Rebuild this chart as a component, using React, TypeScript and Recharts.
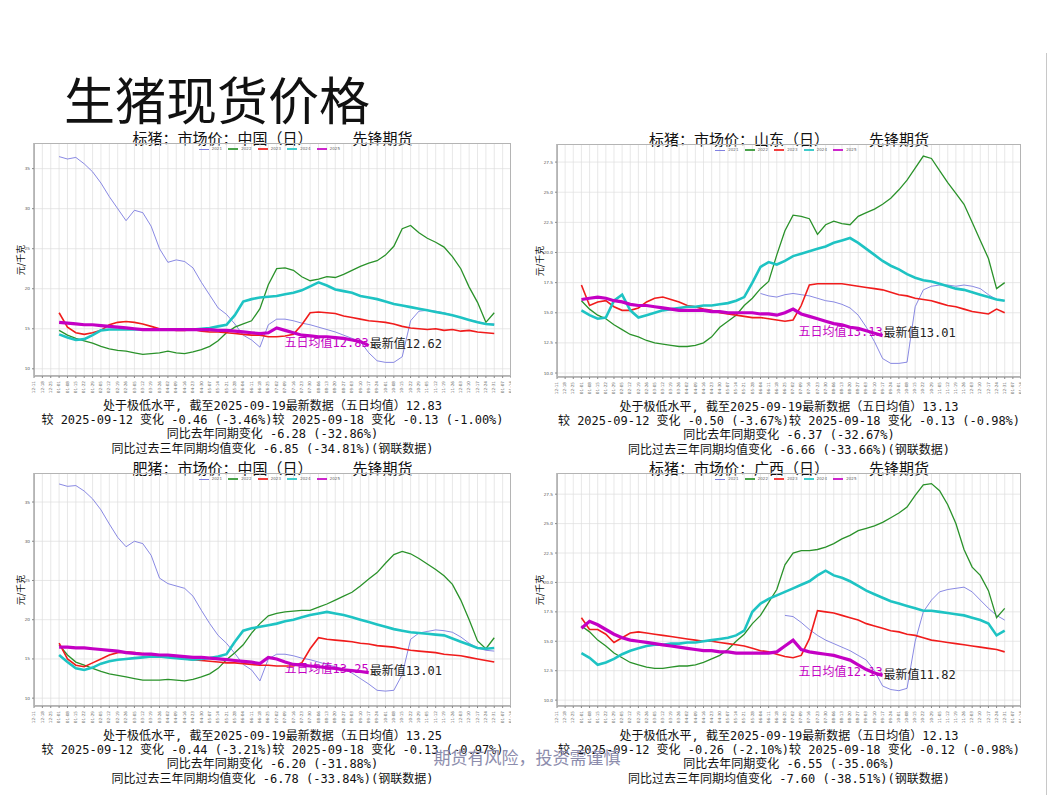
import React from "react";
import { CartesianGrid, Line, LineChart, ReferenceDot, XAxis, YAxis } from "recharts";

// 周度横轴：前后各留几格，01-01 在第 4 格
const XLABELS = [
  "12-11", "12-18", "12-25",
  "01-01", "01-08", "01-15", "01-22", "01-29", "02-05", "02-12", "02-19", "02-26",
  "03-05", "03-12", "03-19", "03-26", "04-02", "04-09", "04-16", "04-23", "04-30",
  "05-07", "05-14", "05-21", "05-28", "06-04", "06-11", "06-18", "06-25", "07-02",
  "07-09", "07-16", "07-23", "07-30", "08-06", "08-13", "08-20", "08-27", "09-03",
  "09-10", "09-17", "09-24", "10-01", "10-08", "10-15", "10-22", "10-29", "11-05",
  "11-12", "11-19", "11-26", "12-03", "12-10", "12-17", "12-24", "12-31",
  "01-07", "01-14",
];
const OFFSET = 3;
const YEARS = ["2021", "2022", "2023", "2024", "2025"];
const COLORS = ["#6b6bdc", "#2a922a", "#f01c1c", "#1ec3c3", "#c400c4"];
const WIDTHS = [0.8, 1.3, 1.6, 2.6, 3.2];

const Y_TICKS_WIDE = [10, 15, 20, 25, 30, 35];
const Y_TICKS_NARROW = [10, 12.5, 15, 17.5, 20, 22.5, 25, 27.5];

// 标猪 中国
const TL_2021 = [36.5, 36.2, 36.4, 35.6, 34.6, 33.2, 31.5, 30.0, 28.5, 29.8, 29.5, 27.8, 25.0, 23.3, 23.6, 23.4, 22.6, 20.8, 19.2, 17.6, 16.8, 15.6, 14.2, 13.6, 12.7, 15.5, 16.2, 16.2, 16.0, 15.7, 15.5, 15.2, 14.9, 14.6, 14.2, 13.8, 13.4, 12.0, 11.0, 10.8, 10.8, 11.5, 16.0, 17.2, 17.3, 17.2, 17.0, 16.7, 16.4, 16.1, 15.9, 15.6, 15.6];
const TL_2022 = [14.8, 14.2, 13.8, 13.5, 13.2, 12.8, 12.5, 12.3, 12.2, 12.0, 11.8, 11.9, 12.0, 12.2, 12.0, 11.9, 12.1, 12.4, 12.8, 13.5, 14.5, 15.2, 15.6, 16.0, 17.5, 20.5, 22.5, 22.6, 22.3, 21.5, 21.0, 21.2, 21.5, 21.4, 21.8, 22.3, 22.8, 23.2, 23.5, 24.2, 25.3, 27.5, 27.9, 27.0, 26.3, 25.8, 25.2, 24.0, 22.5, 20.2, 18.3, 15.8, 17.0];
const TL_2023 = [17.0, 15.2, 14.5, 14.3, 14.5, 14.8, 15.5, 15.8, 15.9, 15.8, 15.6, 15.3, 15.0, 14.9, 14.8, 14.8, 14.9, 14.7, 14.6, 14.6, 14.5, 14.4, 14.3, 14.2, 14.2, 14.0, 14.0, 14.1, 14.3, 15.5, 17.0, 17.1, 17.0, 16.9, 16.6, 16.4, 16.2, 16.0, 15.9, 15.8, 15.6, 15.3, 15.1, 15.0, 14.9, 15.0, 14.8, 14.9, 14.7, 14.8, 14.6, 14.5, 14.4];
const TL_2024 = [14.3, 13.9, 13.6, 13.7, 14.2, 14.8, 14.9, 14.9, 14.9, 14.9, 14.9, 14.9, 14.9, 14.9, 14.9, 14.9, 14.9, 15.0, 15.1, 15.3, 15.5, 16.7, 18.4, 18.7, 18.9, 19.0, 19.1, 19.3, 19.5, 19.8, 20.3, 20.8, 20.4, 19.9, 19.7, 19.5, 19.1, 18.9, 18.7, 18.4, 18.1, 17.9, 17.7, 17.5, 17.3, 17.1, 16.9, 16.7, 16.4, 16.1, 15.8, 15.6, 15.5];
const TL_2025 = [15.8, 15.7, 15.6, 15.5, 15.5, 15.4, 15.3, 15.2, 15.1, 15.0, 14.9, 14.9, 14.9, 14.9, 14.9, 14.9, 14.9, 14.9, 14.9, 14.8, 14.8, 14.7, 14.6, 14.5, 14.4, 14.5, 15.1, 14.8, 14.5, 14.2, 14.1, 14.0, 14.0, 13.9, 13.8, 13.6, 13.4, 12.9];

// 标猪 山东（2021 年数据从年中开始）
const TR_2021 = [...Array(22).fill(null), 16.6, 16.4, 16.3, 16.5, 16.6, 16.5, 16.4, 16.2, 16.0, 15.9, 15.7, 15.4, 14.8, 13.8, 12.6, 11.2, 10.8, 10.8, 10.9, 15.5, 16.9, 17.2, 17.3, 17.3, 17.2, 17.3, 17.2, 17.0, 16.5, 16.1, 16.0];
const TR_2022 = [16.0, 15.3, 14.8, 14.5, 14.0, 13.6, 13.2, 13.0, 12.7, 12.5, 12.4, 12.3, 12.2, 12.2, 12.3, 12.5, 13.0, 13.8, 14.3, 14.8, 15.6, 16.2, 17.0, 17.6, 19.8, 21.8, 23.1, 23.0, 22.8, 21.5, 22.3, 22.6, 22.4, 22.3, 23.0, 23.3, 23.6, 24.0, 24.5, 25.2, 26.0, 27.0, 28.0, 27.8, 26.8, 25.8, 24.9, 24.0, 22.5, 21.0, 19.5, 17.0, 17.5];
const TR_2023 = [17.3, 15.6, 15.9, 16.0, 15.5, 15.2, 15.2, 15.4, 15.9, 16.2, 16.3, 16.1, 15.9, 15.6, 15.5, 15.3, 15.2, 15.0, 14.9, 14.8, 14.7, 14.6, 14.6, 14.5, 14.4, 14.3, 14.4, 15.6, 17.3, 17.4, 17.4, 17.4, 17.4, 17.3, 17.2, 17.1, 17.0, 16.9, 16.7, 16.5, 16.4, 16.2, 16.1, 16.0, 15.8, 15.6, 15.5, 15.3, 15.1, 15.0, 14.9, 15.3, 15.0];
const TR_2024 = [15.2, 14.8, 14.5, 14.6, 16.0, 16.5, 15.2, 14.6, 14.8, 15.0, 15.2, 15.3, 15.4, 15.5, 15.5, 15.6, 15.6, 15.7, 15.8, 16.0, 16.3, 17.5, 18.8, 19.2, 19.0, 19.3, 19.7, 19.9, 20.1, 20.3, 20.5, 20.8, 21.0, 21.2, 20.8, 20.3, 19.8, 19.3, 18.9, 18.6, 18.2, 17.9, 17.7, 17.6, 17.4, 17.2, 17.0, 16.9, 16.7, 16.5, 16.3, 16.1, 16.0];
const TR_2025 = [16.1, 16.2, 16.3, 16.2, 16.0, 15.9, 15.7, 15.6, 15.6, 15.5, 15.4, 15.3, 15.2, 15.2, 15.2, 15.2, 15.1, 15.1, 15.0, 15.0, 15.0, 15.0, 14.9, 14.9, 14.8, 15.0, 15.3, 14.9, 14.7, 14.5, 14.3, 14.1, 14.0, 13.8, 13.7, 13.5, 13.3, 13.1];

// 肥猪 中国
const BL_2021 = [37.3, 37.0, 37.1, 36.4, 35.4, 34.0, 32.2, 30.5, 29.3, 30.0, 29.7, 28.2, 25.3, 24.6, 24.3, 24.0, 23.0, 21.2, 19.5, 18.0, 17.0, 15.7, 14.3, 13.6, 12.2, 15.0, 15.6, 15.6, 15.4, 15.1, 14.9, 14.6, 14.3, 14.0, 13.7, 13.2, 12.5, 11.8, 11.0, 10.9, 11.0, 13.0, 17.5, 18.3, 18.5, 18.7, 18.6, 18.4, 17.8, 17.0, 16.4, 16.1, 16.0];
const BL_2022 = [16.8, 15.5, 14.6, 14.2, 13.8, 13.4, 13.1, 12.9, 12.7, 12.5, 12.3, 12.3, 12.3, 12.4, 12.3, 12.2, 12.4, 12.7, 13.1, 13.8, 14.9, 15.8, 16.8, 18.3, 19.5, 20.5, 20.8, 21.0, 21.1, 21.2, 21.2, 21.6, 22.0, 22.5, 23.0, 23.5, 24.3, 25.2, 26.0, 27.2, 28.3, 28.7, 28.4, 27.8, 27.1, 26.4, 25.6, 24.5, 22.5, 20.0, 17.3, 16.3, 17.7];
const BL_2023 = [17.0, 15.0, 14.2, 14.0, 14.5, 15.0, 15.5, 15.8, 15.9, 15.8, 15.7, 15.5, 15.4, 15.3, 15.2, 15.0, 14.9, 14.8, 14.7, 14.6, 14.5, 14.5, 14.4, 14.3, 14.2, 14.2, 14.1, 14.1, 14.1, 14.5, 16.3, 17.7, 17.5, 17.4, 17.3, 17.2, 17.0, 16.9, 16.7, 16.6, 16.5, 16.3, 16.1, 16.0, 15.9, 15.8, 15.6, 15.5, 15.4, 15.2, 15.0, 14.8, 14.6];
const BL_2024 = [15.5, 14.6, 13.8, 13.6, 13.9, 14.4, 14.7, 14.9, 15.0, 15.1, 15.2, 15.3, 15.3, 15.2, 15.1, 15.0, 14.9, 15.0, 15.1, 15.3, 15.6, 17.2, 18.6, 18.9, 19.1, 19.3, 19.5, 19.8, 20.0, 20.3, 20.6, 20.8, 21.0, 20.8, 20.6, 20.3, 20.0, 19.7, 19.4, 19.1, 18.8, 18.6, 18.4, 18.3, 18.2, 18.1, 18.0, 17.6, 17.2, 16.8, 16.4, 16.3, 16.4];
const BL_2025 = [16.5, 16.5, 16.4, 16.4, 16.3, 16.2, 16.1, 16.0, 15.8, 15.7, 15.6, 15.6, 15.5, 15.5, 15.4, 15.3, 15.2, 15.2, 15.1, 15.0, 14.9, 14.8, 14.7, 14.6, 14.4, 15.2, 15.0, 14.6, 14.3, 14.2, 14.1, 14.0, 13.9, 13.8, 13.6, 13.5, 13.4, 13.25];

// 标猪 广西（2021 年数据从年中开始）
const BR_2021 = [...Array(25).fill(null), 17.2, 17.1, 16.6, 16.0, 15.5, 15.1, 14.8, 14.5, 14.2, 13.8, 13.4, 12.5, 11.2, 10.9, 10.8, 11.0, 15.0, 17.5, 18.5, 19.2, 19.4, 19.5, 19.6, 19.2, 18.5, 17.8, 17.2, 16.8];
const BR_2022 = [16.3, 15.8, 15.1, 14.6, 14.0, 13.6, 13.2, 13.0, 12.8, 12.7, 12.7, 12.8, 12.9, 12.9, 13.0, 13.2, 13.5, 13.8, 14.3, 15.0, 15.6, 16.5, 17.2, 18.3, 19.4, 21.5, 22.5, 22.7, 22.7, 22.8, 23.0, 23.3, 23.7, 24.0, 24.4, 24.6, 24.8, 25.1, 25.5, 25.9, 26.4, 27.4, 28.3, 28.4, 27.8, 26.6, 25.0, 22.8, 21.3, 20.6, 19.3, 17.0, 17.8];
const BR_2023 = [17.0, 16.0, 16.0, 15.6, 14.9, 15.3, 15.7, 15.8, 15.7, 15.6, 15.5, 15.4, 15.3, 15.2, 15.1, 15.0, 15.0, 14.9, 14.8, 14.7, 14.6, 14.4, 14.2, 14.1, 13.9, 13.7, 13.6, 13.8, 15.2, 17.6, 17.5, 17.4, 17.2, 17.0, 16.8, 16.5, 16.3, 16.1, 15.9, 15.8, 15.6, 15.5, 15.3, 15.1, 15.0, 14.9, 14.8, 14.7, 14.6, 14.5, 14.4, 14.3, 14.1];
const BR_2024 = [14.0, 13.6, 13.0, 13.2, 13.5, 13.9, 14.2, 14.4, 14.6, 14.7, 14.7, 14.8, 14.8, 14.9, 14.9, 15.0, 15.1, 15.2, 15.3, 15.5, 15.9, 17.5, 18.2, 18.6, 18.9, 19.2, 19.5, 19.8, 20.1, 20.6, 21.0, 20.6, 20.4, 20.1, 19.7, 19.3, 19.0, 18.7, 18.4, 18.2, 18.0, 17.8, 17.6, 17.6, 17.5, 17.4, 17.3, 17.2, 17.0, 16.8, 16.5, 15.5, 15.9];
const BR_2025 = [16.1, 16.7, 16.4, 16.0, 15.6, 15.3, 15.1, 15.0, 14.9, 14.8, 14.7, 14.6, 14.5, 14.4, 14.3, 14.2, 14.2, 14.1, 14.1, 14.0, 14.0, 14.0, 14.0, 14.0, 14.1, 14.6, 15.1, 14.3, 14.1, 14.0, 13.9, 13.8, 13.6, 13.4, 13.0, 12.6, 12.3, 12.1];

// 五日均值 / 最新值
const TL_AVG = 12.83, TL_LATEST = 12.62;
const TR_AVG = 13.13, TR_LATEST = 13.01;
const BL_AVG = 13.25, BL_LATEST = 13.01;
const BR_AVG = 12.13, BR_LATEST = 11.82;

const TL_NOTES = [
  "处于极低水平, 截至2025-09-19最新数据（五日均值）12.83",
  "较 2025-09-12 变化 -0.46 (-3.46%)较 2025-09-18 变化 -0.13 (-1.00%)",
  "同比去年同期变化 -6.28 (-32.86%)",
  "同比过去三年同期均值变化 -6.85 (-34.81%)(钢联数据)",
];
const TR_NOTES = [
  "处于极低水平, 截至2025-09-19最新数据（五日均值）13.13",
  "较 2025-09-12 变化 -0.50 (-3.67%)较 2025-09-18 变化 -0.13 (-0.98%)",
  "同比去年同期变化 -6.37 (-32.67%)",
  "同比过去三年同期均值变化 -6.66 (-33.66%)(钢联数据)",
];
const BL_NOTES = [
  "处于极低水平, 截至2025-09-19最新数据（五日均值）13.25",
  "较 2025-09-12 变化 -0.44 (-3.21%)较 2025-09-18 变化 -0.13 (-0.97%)",
  "同比去年同期变化 -6.20 (-31.88%)",
  "同比过去三年同期均值变化 -6.78 (-33.84%)(钢联数据)",
];
const BR_NOTES = [
  "处于极低水平, 截至2025-09-19最新数据（五日均值）12.13",
  "较 2025-09-12 变化 -0.26 (-2.10%)较 2025-09-18 变化 -0.12 (-0.98%)",
  "同比去年同期变化 -6.55 (-35.06%)",
  "同比过去三年同期均值变化 -7.60 (-38.51%)(钢联数据)",
];

const PAGE_TITLE = "生猪现货价格";
const SOURCE = "先锋期货";
const DISCLAIMER = "期货有风险，投资需谨慎";
const UNIT = "元/千克";

const CJK = '"Noto Sans CJK SC", "Noto Sans", sans-serif';
const MIXED = '"DejaVu Sans Mono", "Noto Sans CJK SC", monospace';
const Y_AXIS_W = 24;
const X_AXIS_H = 18;

interface PanelCfg {
  title: string;
  left: number;
  top: number;
  width: number;
  height: number;
  unitX: number;
  domain: [number, number];
  ticks: number[];
  decimals: number;
  series: (number | null)[][];
  avg: number;
  latest: number;
  notes: string[];
}

const PANELS: PanelCfg[] = [
  { title: "标猪：市场价：中国（日）", left: 34, top: 143, width: 477, height: 233, unitX: 21, domain: [9.1, 38.2], ticks: Y_TICKS_WIDE, decimals: 0, series: [TL_2021, TL_2022, TL_2023, TL_2024, TL_2025], avg: TL_AVG, latest: TL_LATEST, notes: TL_NOTES },
  { title: "标猪：市场价：山东（日）", left: 557, top: 144, width: 464, height: 233, unitX: 540, domain: [9.67, 29.0], ticks: Y_TICKS_NARROW, decimals: 1, series: [TR_2021, TR_2022, TR_2023, TR_2024, TR_2025], avg: TR_AVG, latest: TR_LATEST, notes: TR_NOTES },
  { title: "肥猪：市场价：中国（日）", left: 34, top: 473, width: 477, height: 233, unitX: 21, domain: [9.0, 38.7], ticks: Y_TICKS_WIDE, decimals: 0, series: [BL_2021, BL_2022, BL_2023, BL_2024, BL_2025], avg: BL_AVG, latest: BL_LATEST, notes: BL_NOTES },
  { title: "标猪：市场价：广西（日）", left: 557, top: 473, width: 464, height: 233, unitX: 540, domain: [9.5, 29.3], ticks: Y_TICKS_NARROW, decimals: 1, series: [BR_2021, BR_2022, BR_2023, BR_2024, BR_2025], avg: BR_AVG, latest: BR_LATEST, notes: BR_NOTES },
];

const X_TICKS = XLABELS.map((_, i) => i);

function XTick({ x, y, payload }: { x?: number; y?: number; payload?: { value: number } }) {
  if (x == null || y == null || !payload) return null;
  const ty = y + 1;
  return (
    <text x={x} y={ty} transform={`rotate(-90 ${x} ${ty})`} textAnchor="end" dominantBaseline="middle" fontSize={4.2} fill="#666" fontFamily="DejaVu Sans">
      {XLABELS[payload.value]}
    </text>
  );
}

function Panel({ cfg }: { cfg: PanelCfg }) {
  const rows = XLABELS.map((_, i) => {
    const r: Record<string, number | null> = { i };
    cfg.series.forEach((s, k) => {
      const v = s[i - OFFSET];
      r[YEARS[k]] = v === undefined ? null : v;
    });
    return r;
  });
  const last = cfg.series[4].length - 1 + OFFSET;

  return (
    <>
      <div style={{ position: "absolute", left: cfg.left, top: cfg.top - 13, width: cfg.width, textAlign: "center", fontSize: 15, lineHeight: "16px", color: "#111", whiteSpace: "nowrap" }}>
        {cfg.title}
        <span style={{ display: "inline-block", width: 40 }} />
        {SOURCE}
      </div>
      <div style={{ position: "absolute", left: cfg.unitX - 20, top: cfg.top + cfg.height / 2 - 6, width: 40, textAlign: "center", fontSize: 9, lineHeight: "12px", transform: "rotate(-90deg)", color: "#111" }}>
        {UNIT}
      </div>
      <div style={{ position: "absolute", left: cfg.left - Y_AXIS_W, top: cfg.top }}>
        <LineChart width={cfg.width + Y_AXIS_W} height={cfg.height + X_AXIS_H} data={rows} margin={{ top: 0, right: 0, bottom: 0, left: 0 }}>
          <CartesianGrid stroke="#dedede" strokeWidth={0.7} />
          <XAxis
            dataKey="i"
            type="number"
            domain={[0, XLABELS.length - 1]}
            ticks={X_TICKS}
            interval={0}
            height={X_AXIS_H}
            tick={<XTick />}
            tickSize={2}
            tickLine={{ stroke: "#888" }}
            axisLine={{ stroke: "#888" }}
          />
          <YAxis
            type="number"
            domain={cfg.domain}
            ticks={cfg.ticks}
            allowDataOverflow
            width={Y_AXIS_W}
            tickSize={2}
            tickLine={{ stroke: "#888" }}
            axisLine={{ stroke: "#888" }}
            tick={{ fontSize: 4.2, fill: "#555", fontFamily: "DejaVu Sans" }}
            tickFormatter={(v: number) => v.toFixed(cfg.decimals)}
          />
          {YEARS.map((yr, k) => (
            <Line
              key={yr}
              dataKey={yr}
              type="linear"
              stroke={COLORS[k]}
              strokeWidth={WIDTHS[k]}
              dot={false}
              activeDot={false}
              connectNulls={false}
              isAnimationActive={false}
            />
          ))}
          <ReferenceDot
            x={last}
            y={cfg.avg}
            r={0}
            shape={(p: { cx?: number; cy?: number }) => (
              <text x={p.cx} y={(p.cy ?? 0) - 3} textAnchor="end" dominantBaseline="middle" fontSize={12} fill="#c400c4" fontFamily={MIXED}>
                {`五日均值${cfg.avg.toFixed(2)}`}
              </text>
            )}
          />
          <ReferenceDot
            x={last}
            y={cfg.latest}
            r={0}
            shape={(p: { cx?: number; cy?: number }) => (
              <text x={(p.cx ?? 0) + 1} y={(p.cy ?? 0) - 3} textAnchor="start" dominantBaseline="middle" fontSize={12} fill="#222" fontFamily={MIXED}>
                {`最新值${cfg.latest.toFixed(2)}`}
              </text>
            )}
          />
        </LineChart>
      </div>
      <div style={{ position: "absolute", left: cfg.left, top: cfg.top, width: cfg.width, height: cfg.height, boxSizing: "border-box", border: "1px solid #b4b4b4", pointerEvents: "none" }} />
      <div style={{ position: "absolute", left: cfg.left, top: cfg.top + 3, width: cfg.width, display: "flex", justifyContent: "center", pointerEvents: "none" }}>
        {YEARS.map((yr, k) => (
          <div key={yr} style={{ display: "flex", alignItems: "center", width: 29.5 }}>
            <span style={{ display: "inline-block", width: 10, height: Math.max(1, Math.min(WIDTHS[k], 2.6)), background: COLORS[k], opacity: 0.85 }} />
            <span style={{ fontSize: 4, lineHeight: "6px", color: "#666", marginLeft: 3, fontFamily: "DejaVu Sans" }}>{yr}</span>
          </div>
        ))}
      </div>
      <div style={{ position: "absolute", left: cfg.left - 20, top: cfg.top + cfg.height + 23, width: cfg.width + 40, textAlign: "center", fontSize: 12, lineHeight: "14.2px", color: "#111", fontFamily: MIXED, whiteSpace: "nowrap" }}>
        {cfg.notes.map((n) => (
          <div key={n}>{n}</div>
        ))}
      </div>
    </>
  );
}

export default function App() {
  return (
    <div style={{ position: "absolute", left: 0, top: 0, width: 1056, height: 795, background: "#fff", fontFamily: CJK, overflow: "hidden" }}>
      <div style={{ position: "absolute", left: 64, top: 70, fontSize: 51, lineHeight: "56px", color: "#111", letterSpacing: 0 }}>{PAGE_TITLE}</div>
      <div style={{ position: "absolute", left: 1046, top: 53, width: 1, height: 742, background: "#c8c8c8" }} />
      {PANELS.map((cfg) => (
        <Panel key={cfg.title} cfg={cfg} />
      ))}
      <div style={{ position: "absolute", left: 327, top: 746, width: 400, textAlign: "center", fontSize: 17, lineHeight: "22px", color: "#8c8cac" }}>{DISCLAIMER}</div>
    </div>
  );
}
